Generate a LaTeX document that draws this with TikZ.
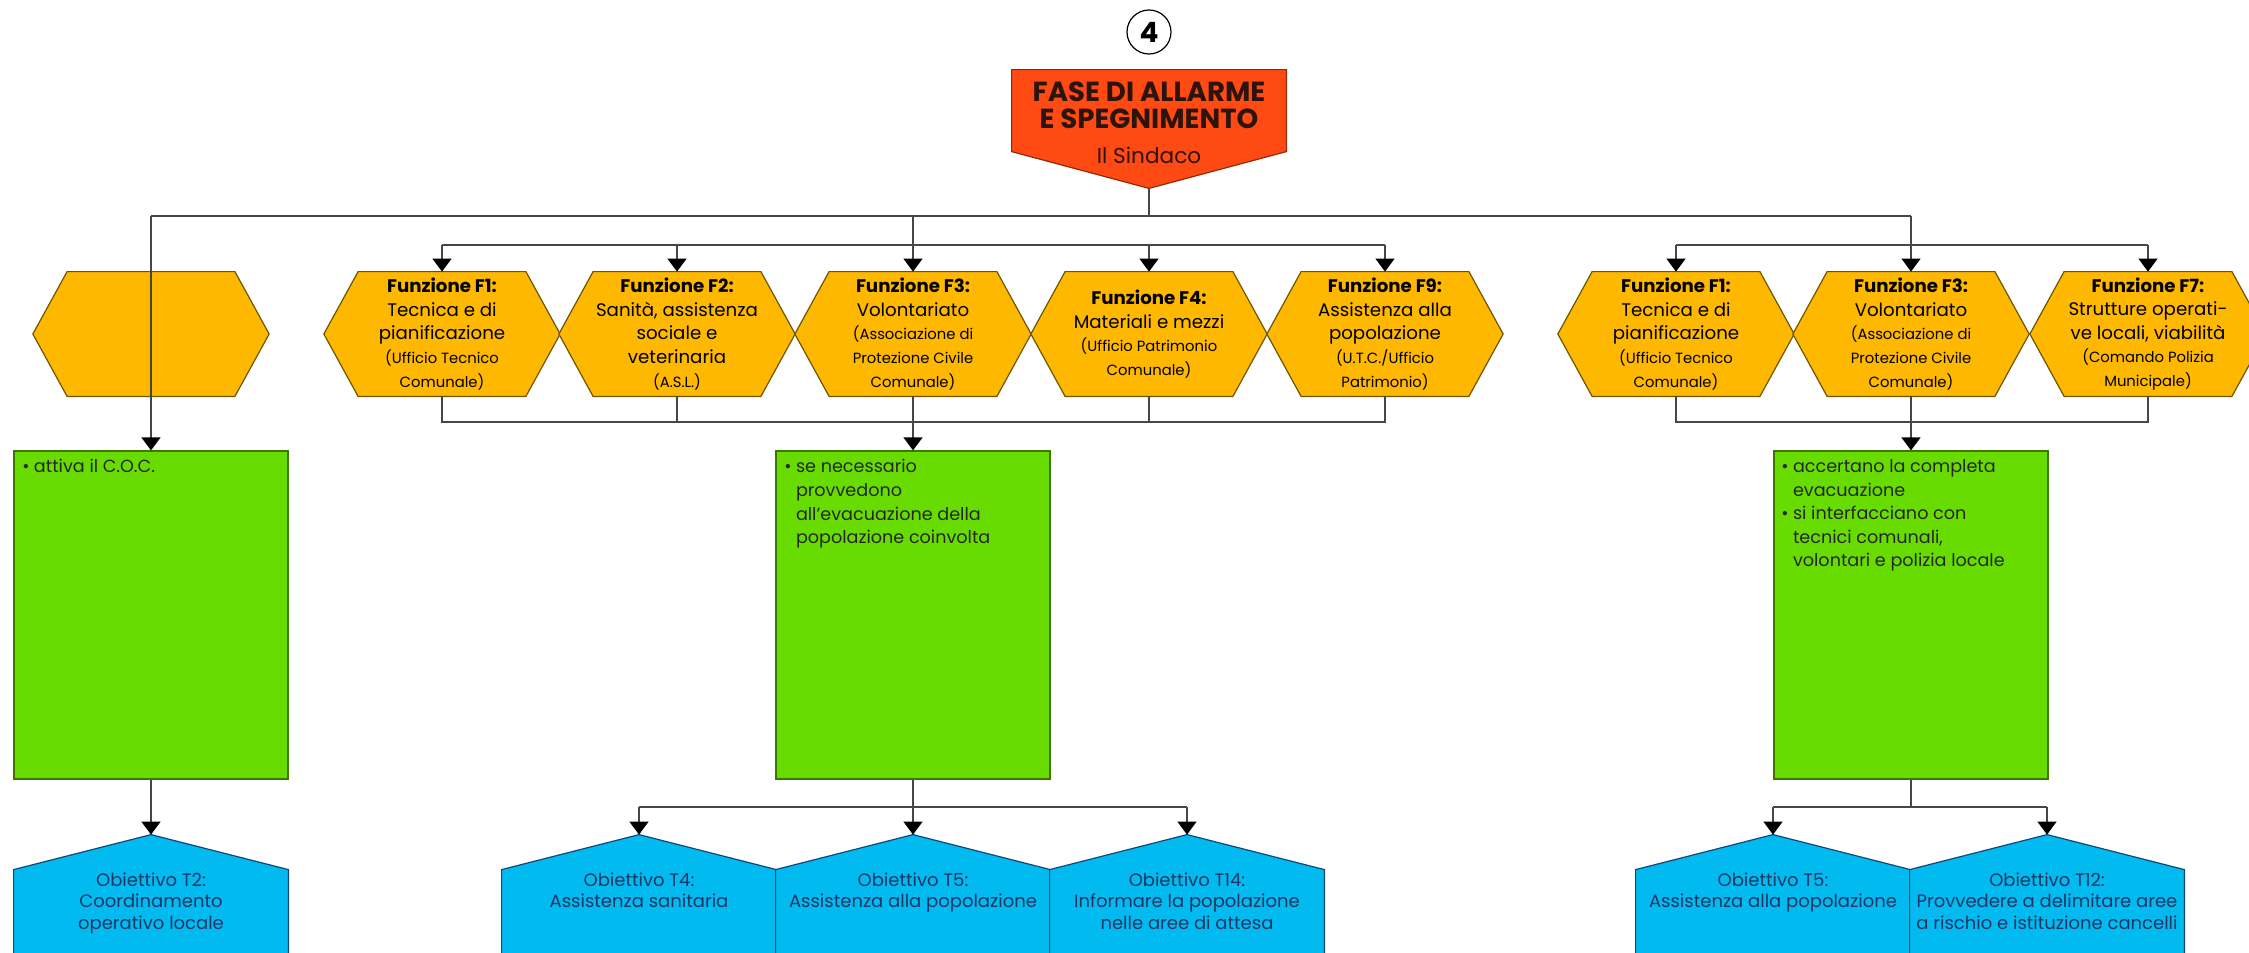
\documentclass[tikz,border=0pt]{standalone}
\usepackage{fontspec}
\setmainfont{Poppins}
\usetikzlibrary{calc,arrows.meta}
\pgfdeclarelayer{bg}
\pgfsetlayers{bg,main}
\definecolor{hexfill}{RGB}{255,184,0}
\definecolor{hexline}{RGB}{110,85,0}
\definecolor{redfill}{RGB}{255,74,20}
\definecolor{redline}{RGB}{150,40,10}
\definecolor{redtext}{RGB}{45,20,10}
\definecolor{grnfill}{RGB}{104,220,0}
\definecolor{grnline}{RGB}{60,120,0}
\definecolor{blufill}{RGB}{0,186,240}
\definecolor{bluline}{RGB}{20,70,120}
\definecolor{blutext}{RGB}{30,55,100}
\definecolor{conncol}{RGB}{70,70,70}
\newcommand\hexfnt{\fontsize{9.1}{11.8}\selectfont}
\newcommand\smfnt{\fontsize{7.4}{10.5}\selectfont}
\newcommand\blt{\makebox[5.8pt][l]{\textbullet}}
\newcommand\ind{\hspace*{5.8pt}}
\begin{document}
\begin{tikzpicture}[x=0.5pt,y=-0.5pt,
  hexnode/.style={rectangle, minimum width=117.75pt, minimum height=62pt, inner sep=0pt, align=center, font=\hexfnt, text=black},
  hexshape/.style={fill=hexfill, draw=hexline, line width=0.6pt},
  grnbox/.style={rectangle, fill=grnfill, draw=grnline, line width=0.6pt, minimum width=137pt, minimum height=164pt, inner sep=0pt},
  grntext/.style={anchor=north west, inner sep=0pt, align=left, font=\fontsize{8.8}{11.8}\selectfont, text=black!85},
  blunode/.style={rectangle, minimum width=137pt, minimum height=65pt, inner sep=0pt},
  blushape/.style={fill=blufill, draw=bluline, line width=0.6pt},
  blutxt/.style={anchor=north, inner sep=0pt, align=center, font=\fontsize{9.0}{10.8}\selectfont, text=blutext},
  conn/.style={draw=conncol, line width=0.7pt},
  arr/.style={conn, -{Triangle[width=9.5pt,length=6.5pt,color=black]}}
]
\useasboundingbox (0,0) rectangle (2249,953);
% title
\node[circle, draw=black, line width=0.6pt, minimum size=22pt, inner sep=0pt, font=\fontsize{14}{14}\bfseries\selectfont] (c4) at (1149,32) {4};
\node[rectangle, minimum width=137pt, minimum height=59pt, inner sep=0pt] (red) at (1149,129) {};
\node[anchor=north, inner sep=0pt, align=center, text=redtext, font=\fontsize{13.8}{13.6}\bfseries\selectfont] (redt) at (1149,81) {FASE DI ALLARME\\E SPEGNIMENTO\\[4pt]\mdseries\fontsize{10.8}{13.6}\selectfont Il Sindaco};
% hexagons
\node[hexnode] (h0) at (151,334) {};
\node[hexnode] (m1) at (442,334) {\textbf{Funzione F1:}\\Tecnica e di\\pianificazione\\\smfnt(Ufficio Tecnico\\\smfnt Comunale)};
\node[hexnode] (m2) at (677,334) {\textbf{Funzione F2:}\\Sanità, assistenza\\sociale e\\veterinaria\\\smfnt(A.S.L.)};
\node[hexnode] (m3) at (913,334) {\textbf{Funzione F3:}\\Volontariato\\\smfnt(Associazione di\\\smfnt Protezione Civile\\\smfnt Comunale)};
\node[hexnode] (m4) at (1149,334) {\textbf{Funzione F4:}\\Materiali e mezzi\\\smfnt(Ufficio Patrimonio\\\smfnt Comunale)};
\node[hexnode] (m9) at (1385,334) {\textbf{Funzione F9:}\\Assistenza alla\\popolazione\\\smfnt(U.T.C./Ufficio\\\smfnt Patrimonio)};
\node[hexnode] (r1) at (1676,334) {\textbf{Funzione F1:}\\Tecnica e di\\pianificazione\\\smfnt(Ufficio Tecnico\\\smfnt Comunale)};
\node[hexnode] (r3) at (1911,334) {\textbf{Funzione F3:}\\Volontariato\\\smfnt(Associazione di\\\smfnt Protezione Civile\\\smfnt Comunale)};
\node[hexnode] (r7) at (2148,334) {\textbf{Funzione F7:}\\Strutture operati-\\ve locali, viabilità\\\smfnt(Comando Polizia\\\smfnt Municipale)};
% green boxes
\node[grnbox] (g0) at (151,615) {};
\node[grnbox] (g1) at (913,615) {};
\node[grnbox] (g2) at (1911,615) {};
\node[grntext] (g0t) at (22,459) {\blt attiva il C.O.C.};
\node[grntext] (g1t) at (784,459) {\blt se necessario\\\ind provvedono\\\ind all'evacuazione della\\\ind popolazione coinvolta};
\node[grntext] (g2t) at (1781,459) {\blt accertano la completa\\\ind evacuazione\\\blt si interfacciano con\\\ind tecnici comunali,\\\ind volontari e polizia locale};
% blue shapes
\node[blunode] (b0) at (151,900) {};
\node[blunode] (t4) at (639,900) {};
\node[blunode] (t5) at (913,900) {};
\node[blunode] (t14) at (1187,900) {};
\node[blunode] (u5) at (1773,900) {};
\node[blunode] (u12) at (2047,900) {};
\node[blutxt] (b0t) at (151,872) {Obiettivo T2:\\Coordinamento\\operativo locale};
\node[blutxt] (t4t) at (639,872) {Obiettivo T4:\\Assistenza sanitaria};
\node[blutxt] (t5t) at (913,872) {Obiettivo T5:\\Assistenza alla popolazione};
\node[blutxt] (t14t) at (1187,872) {Obiettivo T14:\\Informare la popolazione\\nelle aree di attesa};
\node[blutxt] (u5t) at (1773,872) {Obiettivo T5:\\Assistenza alla popolazione};
\node[blutxt] (u12t) at (2047,872) {Obiettivo T12:\\Provvedere a delimitare aree\\a rischio e istituzione cancelli};
% background shapes
\begin{pgfonlayer}{bg}
\draw[fill=redfill, draw=redline, line width=0.6pt] (red.north west) -- (red.north east) -- ($(red.north east)+(0,82)$) -- (red.south) -- ($(red.north west)+(0,82)$) -- cycle;
\foreach \n in {h0,m1,m2,m3,m4,m9,r1,r3,r7}{
  \draw[hexshape] (\n.west) -- ($(\n.north west)+(34.25,0)$) -- ($(\n.north east)+(-34.25,0)$) -- (\n.east) -- ($(\n.south east)+(-34.25,0)$) -- ($(\n.south west)+(34.25,0)$) -- cycle;
}
\foreach \n in {b0,t4,t5,t14,u5,u12}{
  \draw[blushape] (\n.north) -- ($(\n.north east)+(0,35)$) -- (\n.south east) -- (\n.south west) -- ($(\n.north west)+(0,35)$) -- cycle;
}
\end{pgfonlayer}
% connectors
\coordinate (mainL) at (151,216);
\coordinate (mainR) at (1911,216);
\coordinate (sec) at (0,245);
\coordinate (bot) at (0,422);
\coordinate (br) at (0,807);
\draw[conn] (red.south) -- (red.south |- mainL);
\draw[conn] (mainL) -- (mainR);
\draw[arr] (mainL) -- (g0.north);
\draw[arr] (m3.north |- mainL) -- (m3.north);
\draw[arr] (mainR) -- (r3.north);
\draw[conn] (m1.north |- sec) -- (m9.north |- sec);
\foreach \n in {m1,m2,m4,m9}{\draw[arr] (\n.north |- sec) -- (\n.north);}
\draw[conn] (r1.north |- sec) -- (r7.north |- sec);
\foreach \n in {r1,r7}{\draw[arr] (\n.north |- sec) -- (\n.north);}
\draw[conn] (m1.south) -- (m1.south |- bot) -- (m9.south |- bot) -- (m9.south);
\foreach \n in {m2,m3,m4}{\draw[conn] (\n.south) -- (\n.south |- bot);}
\draw[arr] (m3.south |- bot) -- (g1.north);
\draw[conn] (r1.south) -- (r1.south |- bot) -- (r7.south |- bot) -- (r7.south);
\draw[conn] (r3.south) -- (r3.south |- bot);
\draw[arr] (r3.south |- bot) -- (g2.north);
\draw[arr] (g0.south) -- (b0.north);
\draw[conn] (g1.south) -- (g1.south |- br);
\draw[conn] (t4.north |- br) -- (t14.north |- br);
\foreach \n in {t4,t5,t14}{\draw[arr] (\n.north |- br) -- (\n.north);}
\draw[conn] (g2.south) -- (g2.south |- br);
\draw[conn] (u5.north |- br) -- (u12.north |- br);
\foreach \n in {u5,u12}{\draw[arr] (\n.north |- br) -- (\n.north);}
\end{tikzpicture}
\end{document}
